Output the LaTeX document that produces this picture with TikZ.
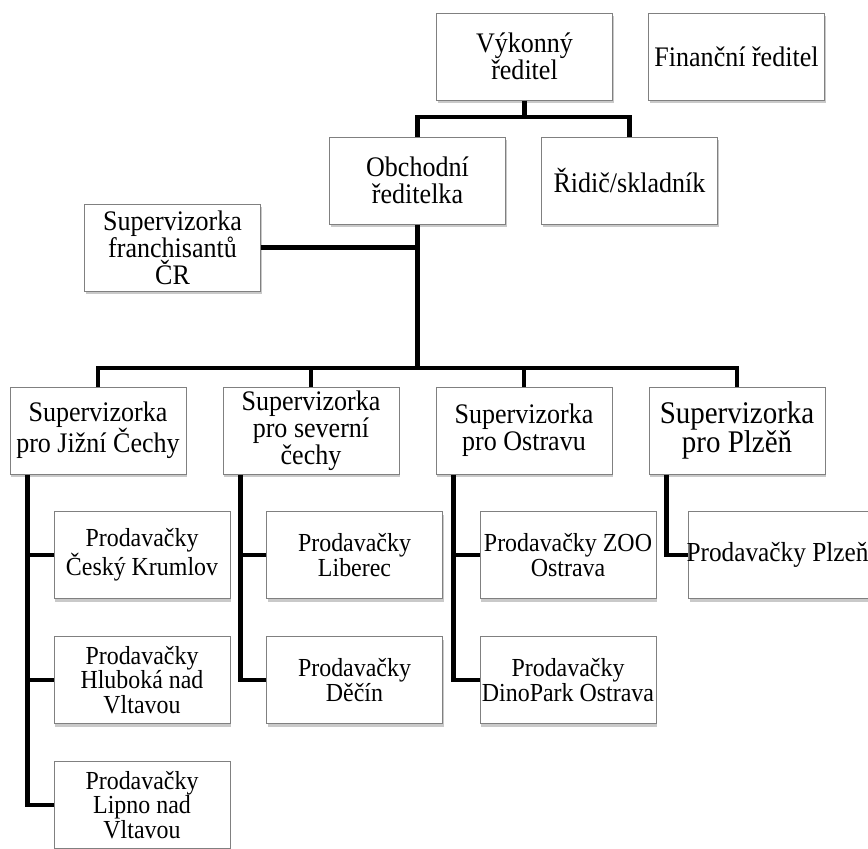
\documentclass[tikz,border=0pt]{standalone}
\usepackage{fontspec}
\setmainfont{Liberation Serif}[FakeStretch=0.92]
\usetikzlibrary{shadows}
\newcommand\fa{\fontsize{28.3}{27}\selectfont}
\newcommand\fb{\fontsize{26}{24.2}\selectfont}
\newcommand\fc{\fontsize{31.5}{29}\selectfont}
\newcommand\fd{\fontsize{27.5}{25}\selectfont}
\tikzset{
  box/.style={draw=black!50, line width=1pt, fill=white, minimum width=176pt,
    minimum height=87pt, align=center, inner sep=1pt, font=\fa,
    drop shadow={shadow xshift=1pt, shadow yshift=-3pt, opacity=0.35, fill=black!60}},
  pbox/.style={box, font=\fb},
  conn/.style={draw=black, line width=4.5pt}
}
\begin{document}
\begin{tikzpicture}[x=1pt,y=-1pt]
\useasboundingbox (0,0) rectangle (868,849);
\fill[white] (0,0) rectangle (868,849);
\clip (0,0) rectangle (868,849);
% nodes
\node[box] (vyk) at (524.5,56.5) {Výkonný\\ředitel};
\node[box] (fin) at (736.5,56.5) {Finanční ředitel};
\node[box] (obch) at (417.5,180.5) {Obchodní\\ředitelka};
\node[box] (ridic) at (629.5,180.5) {Řidič/skladník};
\node[box] (fran) at (172.5,247.5) {Supervizorka\\franchisantů\\ČR};
\node[box] (s1) at (98,430.5) {Supervizorka\\pro Jižní Čechy};
\node[box] (s2) at (311,430.5) {Supervizorka\\pro severní\\čechy};
\node[box] (s3) at (524,430.5) {Supervizorka\\pro Ostravu};
\node[box, font=\fc] (s4) at (737,430.5) {Supervizorka\\pro Plzěň};
\node[pbox] (p11) at (142,555) {Prodavačky\\Český Krumlov};
\node[pbox] (p12) at (142,680) {Prodavačky\\Hluboká nad\\Vltavou};
\node[pbox] (p13) at (142,805) {Prodavačky\\Lipno nad\\Vltavou};
\node[pbox] (p21) at (354.5,555) {Prodavačky\\Liberec};
\node[pbox] (p22) at (354.5,680) {Prodavačky\\Děčín};
\node[pbox] (p31) at (568,555) {Prodavačky ZOO\\Ostrava};
\node[pbox] (p32) at (568,680) {Prodavačky\\DinoPark Ostrava};
\node[box, font=\fd] (p41) at (780.5,555) {\hspace*{-3pt}Prodavačky Plzeň\hspace*{3pt}};
% connectors level 1
\coordinate (bar1) at (524.5,117);
\draw[conn] (vyk.south) -- (bar1);
\draw[conn] (obch.north) |- (bar1) -| (ridic.north);
% level 2
\coordinate (bar2) at (417.5,368);
\draw[conn] (obch.south) -- (bar2);
\draw[conn] (fran.east) -- (fran.east -| obch.south);
\draw[conn] (s1.north) |- (bar2) -| (s4.north);
\draw[conn] (s2.north) -- (s2.north |- bar2);
\draw[conn] (s3.north) -- (s3.north |- bar2);
% level 3
\coordinate (v1) at ([xshift=18pt]s1.south west);
\coordinate (v2) at ([xshift=18pt]s2.south west);
\coordinate (v3) at ([xshift=18pt]s3.south west);
\coordinate (v4) at ([xshift=18pt]s4.south west);
\draw[conn] (v1) |- (p13.west);
\draw[conn] (p11.west) -- (p11.west -| v1);
\draw[conn] (p12.west) -- (p12.west -| v1);
\draw[conn] (v2) |- (p22.west);
\draw[conn] (p21.west) -- (p21.west -| v2);
\draw[conn] (v3) |- (p32.west);
\draw[conn] (p31.west) -- (p31.west -| v3);
\draw[conn] (v4) |- (p41.west);
\end{tikzpicture}
\end{document}
